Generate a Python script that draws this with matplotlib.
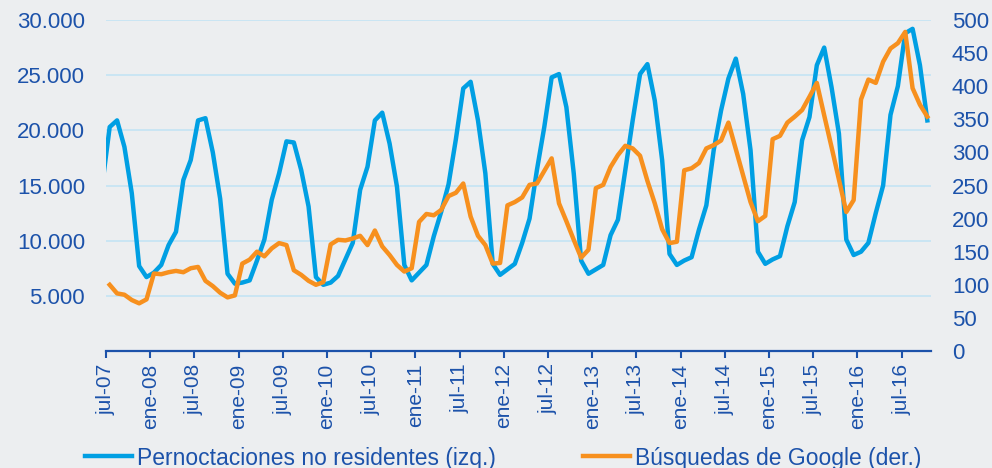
import numpy as np
import matplotlib.pyplot as plt
from matplotlib.lines import Line2D

plt.rcParams['font.family'] = ['Liberation Sans', 'DejaVu Sans']

# etiquetas del eje x (cada 6 meses, desde jul-07)
tick_labels = ['jul-07', 'ene-08', 'jul-08', 'ene-09', 'jul-09', 'ene-10', 'jul-10',
               'ene-11', 'jul-11', 'ene-12', 'jul-12', 'ene-13', 'jul-13', 'ene-14',
               'jul-14', 'ene-15', 'jul-15', 'ene-16', 'jul-16']

# pernoctaciones no residentes (miles), jun-07 .. oct-16
pernoctaciones = [15.1,
    20.3, 20.9, 18.5, 14.3, 7.7, 6.7,
    7.1, 7.8, 9.6, 10.8, 15.5, 17.3, 20.9, 21.1, 18.0, 13.8, 7.0, 6.1,
    6.2, 6.4, 8.2, 10.1, 13.7, 16.1, 19.0, 18.9, 16.4, 13.1, 6.7, 6.0,
    6.2, 6.8, 8.3, 9.8, 14.6, 16.7, 20.9, 21.6, 18.8, 14.9, 7.8, 6.4,
    7.1, 7.8, 10.4, 12.6, 15.1, 19.2, 23.8, 24.4, 20.9, 16.1, 7.9, 6.9,
    7.4, 7.9, 9.8, 12.0, 16.4, 20.3, 24.8, 25.1, 22.1, 16.1, 8.2, 7.0,
    7.4, 7.8, 10.5, 11.9, 16.4, 20.9, 25.1, 26.0, 22.7, 17.3, 8.8, 7.8,
    8.2, 8.5, 11.0, 13.2, 18.2, 21.8, 24.7, 26.5, 23.3, 18.2, 9.0, 7.9,
    8.3, 8.6, 11.3, 13.5, 19.1, 21.2, 25.9, 27.5, 23.9, 19.7, 10.1, 8.7,
    9.0, 9.8, 12.5, 15.0, 21.4, 24.0, 28.8, 29.2, 25.9, 20.9]

# busquedas de Google (indice), jul-07 .. oct-16
busquedas = [
    100, 87, 85, 77, 72, 78,
    117, 116, 119, 121, 119, 125, 127, 106, 98, 88, 81, 84,
    132, 138, 150, 143, 155, 163, 160, 122, 115, 106, 100, 104,
    161, 168, 167, 170, 174, 160, 182, 158, 145, 130, 120, 125,
    195, 207, 205, 213, 234, 239, 253, 203, 174, 160, 132, 133,
    220, 225, 232, 251, 253, 272, 291, 223, 196, 168, 141, 153,
    246, 251, 278, 296, 310, 306, 295, 257, 223, 184, 163, 165,
    273, 276, 284, 306, 311, 318, 345, 305, 265, 225, 196, 204,
    320, 325, 345, 354, 364, 384, 405, 356, 308, 259, 210, 228,
    380, 410, 405, 437, 457, 465, 482, 397, 372, 354]

bg = '#eceef0'
azul = '#009fe3'
naranja = '#f7901e'
texto = '#1c52aa'
rejilla = '#c4e4f4'

x1 = np.arange(-1, len(pernoctaciones) - 1)
x2 = np.arange(len(busquedas))

fig = plt.figure(figsize=(9.92, 4.68), dpi=100, facecolor=bg)
ax = fig.add_axes([106/992, 117/468, 825/992, 331/468])
ax.set_facecolor(bg)
ax.plot(x1, np.array(pernoctaciones) * 1000, color=azul, lw=3.2)
ax.set_xlim(-0.5, len(busquedas) - 0.5)
ax.set_ylim(0, 30000)
ax.set_yticks(range(5000, 30001, 5000))
ax.set_yticklabels(['{:,}'.format(v).replace(',', '.') for v in range(5000, 30001, 5000)])
ax.grid(axis='y', color=rejilla, lw=1.2)
ax.set_axisbelow(True)
ax.set_xticks(np.arange(-0.5, len(busquedas), 6))
ax.set_xticklabels(tick_labels, rotation=90, va='top', ha='center')
ax.tick_params(axis='y', length=0, pad=15, labelsize=16, labelcolor=texto)
ax.tick_params(axis='x', length=5, width=1.5, color=texto, pad=4, labelsize=15, labelcolor=texto)
for s in ['left', 'right', 'top']:
    ax.spines[s].set_visible(False)
ax.spines['bottom'].set_color(texto)
ax.spines['bottom'].set_linewidth(1.6)

ax2 = ax.twinx()
ax2.plot(x2, busquedas, color=naranja, lw=3.2)
ax2.set_ylim(0, 500)
ax2.set_yticks(range(0, 501, 50))
ax2.tick_params(axis='y', length=0, pad=15, labelsize=16, labelcolor=texto)
for s in ax2.spines.values():
    s.set_visible(False)

handles = [Line2D([], [], color=azul, lw=3.2), Line2D([], [], color=naranja, lw=3.2)]
fig.legend(handles, ['Pernoctaciones no residentes (izq.)', 'Búsquedas de Google (der.)'],
           loc='center left', bbox_to_anchor=(85/992, 1 - 458/468), ncol=2, frameon=False,
           fontsize=16.5, labelcolor=texto, handlelength=2.05, handletextpad=0.22,
           columnspacing=3.8, borderpad=0, borderaxespad=0)

plt.savefig('out.png', dpi=100, facecolor=bg)
